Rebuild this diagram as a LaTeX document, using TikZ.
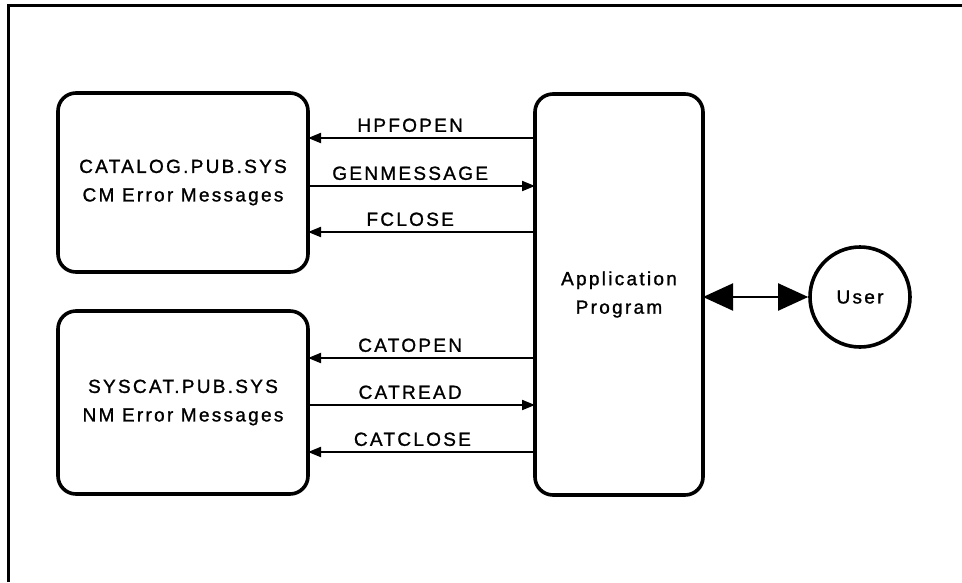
\documentclass[tikz,border=0pt]{standalone}
\usepackage{fontspec}
\setmainfont[LetterSpace=12, FakeBold=1.2]{Liberation Sans}
\usetikzlibrary{arrows.meta}

\tikzset{
  blk/.style={draw, line width=3.6pt, rounded corners=18pt, align=center,
    inner sep=0pt, outer sep=0pt},
  call/.style={line width=2pt, -{Triangle[length=13pt,width=10pt]}},
  lbl/.style={above=5pt, inner sep=0pt},
  bigtip/.tip={Triangle[length=30pt,width=27pt]}
}

\begin{document}
\begin{tikzpicture}[x=1pt, y=-1pt, font=\fontsize{19}{28.5}\selectfont]
  \useasboundingbox (0,0) rectangle (962,582);

  % open frame: top and left rules only
  \draw[line width=3pt, line join=miter] (8.5,582) -- (8.5,5) -- (962,5);

  % message files
  \node[blk, minimum width=250pt, minimum height=179pt] (cat) at (183,182.5)
    {CATALOG.PUB.SYS\\CM Error Messages};
  \node[blk, minimum width=250pt, minimum height=183pt] (sys) at (183,402.5)
    {SYSCAT.PUB.SYS\\NM Error Messages};

  % program and user
  \node[blk, minimum width=168pt, minimum height=401pt] (app) at (619,294.5)
    {Application\\Program};
  \node[draw, circle, line width=3.6pt, minimum size=100pt, inner sep=0pt]
    (user) at (860,297) {User};

  % intrinsic calls against CATALOG.PUB.SYS
  \draw[call] (app.west |- 0,138) -- node[lbl, pos=0.55] (l1) {HPFOPEN} (cat.east |- 0,138);
  \draw[call] (cat.east |- 0,186) -- node[lbl, pos=0.45] (l2) {GENMESSAGE} (app.west |- 0,186);
  \draw[call] (app.west |- 0,232) -- node[lbl, pos=0.55] (l3) {FCLOSE} (cat.east |- 0,232);

  % intrinsic calls against SYSCAT.PUB.SYS
  \draw[call] (app.west |- 0,358) -- node[lbl, pos=0.55] (l4) {CATOPEN} (sys.east |- 0,358);
  \draw[call] (sys.east |- 0,405) -- node[lbl, pos=0.45] (l5) {CATREAD} (app.west |- 0,405);
  \draw[call] (app.west |- 0,452) -- node[lbl, pos=0.54] (l6) {CATCLOSE} (sys.east |- 0,452);

  % dialogue with the user
  \draw[line width=2pt, {bigtip}-{bigtip}] (app.east |- user.west) -- (user.west);
\end{tikzpicture}
\end{document}
